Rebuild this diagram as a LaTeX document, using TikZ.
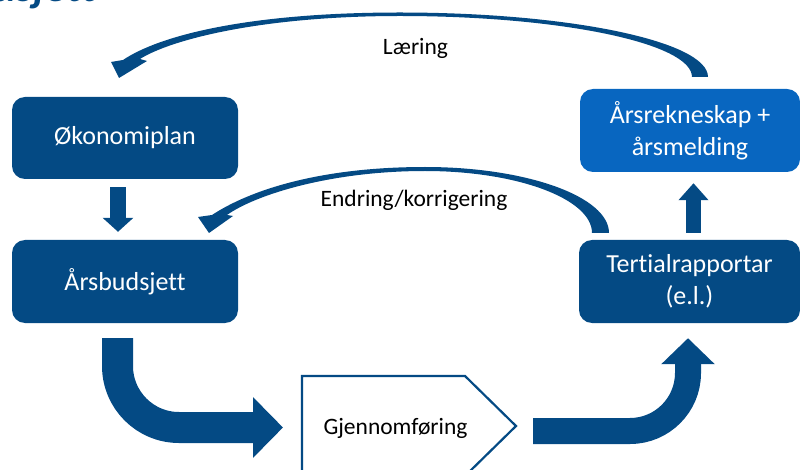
\documentclass[tikz,border=0pt]{standalone}
\usepackage{fontspec}
\setmainfont{Carlito}[Ligatures={NoCommon}]
\usetikzlibrary{arrows.meta,calc}
\definecolor{dblue}{HTML}{044A84}
\definecolor{lblue}{HTML}{0866C0}
\begin{document}
\begin{tikzpicture}[x=1pt,y=-1pt,
  box/.style={fill=dblue, rounded corners=13pt, minimum width=226pt, minimum height=82pt,
    text=white, font=\fontsize{26}{32}\selectfont, align=center, inner sep=0pt},
  lbl/.style={font=\fontsize{23.5}{28}\selectfont, text=black, inner sep=0pt},
  fatarrow/.style={dblue, line width=#1},
  sweep/.style={fill=dblue}]
\clip (0,0) rectangle (800,470);

% cut-off title
\node[anchor=base east, inner sep=0pt, text=dblue,
  font=\fontsize{44}{44}\selectfont\bfseries\itshape] (title) at (97,1.5) {Budsjett};

% boxes
\node[box] (oko) at (125,138) {Økonomiplan};
\node[box, minimum height=83pt] (bud) at (125,281.5) {Årsbudsjett};
\node[box, fill=lblue, minimum width=220pt, minimum height=83pt] (ars) at (690,130.5) {Årsrekneskap +\\årsmelding};
\node[box, minimum width=221pt, minimum height=83pt] (ter) at (689.5,281.5) {Tertialrapportar\\(e.l.)};

% execution pentagon
\draw[dblue, line width=2.2pt, fill=white] (302,376) -- (465,376) -- (516,426) -- (465,476) -- (302,476) -- cycle;
\node[lbl, anchor=base] (gj) at (395.5,434) {Gjennomføring};

% labels
\node[lbl, anchor=base] (laering) at (415.5,55) {Læring};
\node[lbl, anchor=base] (endring) at (414,207) {Endring/korrigering};

% straight arrows
\coordinate (d1) at ($(oko.south)+(-7,8)$);
\coordinate (d2) at ($(bud.north)+(-7,-8)$);
\draw[fatarrow=16pt, -{Triangle[width=30pt,length=14pt]}] (d1) -- (d2);
\coordinate (u1) at ($(ter.north)+(4,-7)$);
\coordinate (u2) at ($(ars.south)+(3.5,11)$);
\draw[fatarrow=15pt, -{Triangle[width=29pt,length=17pt]}] (u1) -- (u2);

% bent arrows
\coordinate (b1) at ($(bud.south)+(-7.5,15)$);
\coordinate (b2) at ($(gj.base)+(-112.5,-6.5)$);
\draw[fatarrow=31pt, rounded corners=61.5pt, -{Triangle[width=59pt,length=30pt]}] (b1) |- (b2);
\coordinate (c1) at (533,431);
\coordinate (c2) at ($(ter.south)+(-1.5,15)$);
\draw[fatarrow=26pt, rounded corners=58pt, -{Triangle[width=52pt,length=26pt]}] (c1) -| (c2);

% sweeping arrow: Laering
\fill[sweep] (708,77) .. controls (708,41.4) and (570,12.5) .. (400,12.5)
  .. controls (250,12.5) and (160,35) .. (123,60)
  -- (111,62) -- (119,78) -- (147,61) -- (140,59)
  .. controls (170,40) and (260,16) .. (400,16)
  .. controls (561,16) and (692,43.3) .. (692,77) -- cycle;

% sweeping arrow: Endring/korrigering
\fill[sweep] (609,233) .. controls (609,196.6) and (526.6,167) .. (425,167)
  .. controls (320,167) and (250,190) .. (212,215)
  -- (198,217) -- (209,233) -- (233,216) -- (227,215)
  .. controls (255,195) and (330,171) .. (425,171)
  .. controls (517,171) and (592,198.8) .. (592,233) -- cycle;
\end{tikzpicture}
\end{document}
